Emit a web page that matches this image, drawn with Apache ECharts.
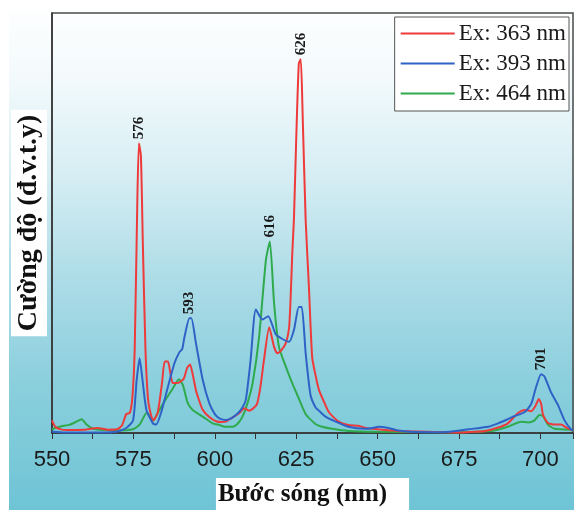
<!DOCTYPE html>
<html>
<head>
<meta charset="utf-8">
<script src="https://cdn.jsdelivr.net/npm/echarts@6/dist/echarts.min.js"></script>
<style>
  html, body { margin: 0; padding: 0; background: #fff; }
  #chart { width: 574px; height: 510px; }
</style>
</head>
<body>
<div id="chart"></div>
<script>
// Ex: 363 nm (red)
const redX = [550, 551, 553, 556, 560, 564, 567, 570, 571.5, 572.8, 573.9, 574.7, 575.4, 576.2, 576.7, 577.3, 577.9, 578.7, 579.5, 580.5,
  581.2, 582.5, 583.8, 584.6, 585.6, 586.4, 587.1, 589, 590.5, 591.5, 592.4, 593.2, 594.2, 595.3, 596.3, 598.3, 600.4, 602, 603.4, 605,
  607.5, 609, 610.5, 612, 613, 614, 615.1, 616.7, 618.2, 619.2, 620.5, 621.8, 622.8, 623.3, 623.8, 624.3, 625, 625.8, 626.4, 627,
  627.9, 628.9, 629.9, 631, 632, 633.5, 635, 638, 641, 644, 647, 650, 656, 660, 670, 675, 680, 683, 687, 690,
  693, 695.2, 697.2, 698.5, 699.5, 700.2, 700.8, 702.3, 704.3, 706.3, 708, 710]
const redY = [3, 1.5, 0.8, 0.7, 0.8, 1.2, 0.8, 0.9, 1.8, 4.5, 4.8, 8.6, 20, 55, 69, 66, 45, 20, 8, 4,
  3, 5, 12, 17, 17, 14, 11.9, 12, 13, 15.5, 16.3, 14, 10.2, 7.5, 5.5, 3.8, 2.8, 2.6, 2.7, 3.5,
  4.7, 5.9, 5.3, 6, 7, 11, 17.4, 25.2, 20.5, 19, 19.8, 21.4, 25, 32.5, 43, 51, 70, 88, 89, 75,
  50.7, 34.8, 18, 13.5, 10.2, 7.5, 5, 2.7, 1.9, 1.7, 1.1, 0.9, 0.5, 0.4, 0.2, 0.1, 0.3, 0.5, 1.3, 2.3,
  4.7, 5.5, 5.2, 6.5, 8.1, 7, 4.3, 2.4, 2, 2, 1.3, 0.6]

// Ex: 393 nm (blue)
const blueX = [550, 555, 560, 565, 569.8, 572.8, 574.9, 576, 576.9, 577.9, 579, 581, 582, 583.5, 585.6, 587.6, 589.1, 590, 590.7, 592.2,
  592.8, 594.2, 596.3, 598.3, 600, 601.4, 603.4, 605, 606.5, 608, 609.5, 611, 612.6, 614.6, 616.4, 618.7, 620.5, 622.8, 624.3, 625.8,
  626.7, 627.9, 629.4, 631, 632, 634, 636, 641, 646.2, 648.5, 650.3, 653.4, 656.4, 660, 670, 678, 684, 687, 690, 692,
  695.2, 697.2, 698.5, 700.2, 701.2, 703.3, 705.3, 707.4, 709.3, 710]
const blueY = [0.3, 0.1, 0.1, 0.1, 0.3, 1.2, 3, 12.6, 17.8, 11.9, 5.5, 2.3, 2, 4.8, 11, 16.6, 19.2, 20, 22.9, 27.3,
  27.3, 21.4, 12.6, 7.1, 4.5, 3.5, 3.1, 3.5, 4.3, 5.5, 7.9, 17.4, 29.4, 27, 27.8, 23.5, 22.5, 21.7, 24.5, 30,
  30, 19, 9, 6, 5.3, 3.9, 3.1, 1.5, 1, 1.2, 1.5, 1.2, 0.6, 0.3, 0.2, 0.9, 1.5, 2.3, 3.3, 4,
  5, 7, 10.5, 14, 13.5, 9.6, 6.8, 3, 0.9, 0.6]

// Ex: 464 nm (green)
const greenX = [550, 552.4, 555.5, 557.5, 559.1, 560.6, 562.6, 566, 569.8, 574.9, 576.9, 579.1, 581, 583, 585.1, 587.1, 589, 590.2, 591.7, 593.2,
  596.3, 599.3, 601.4, 603, 605.5, 607, 608.5, 610, 611.6, 613.6, 615.7, 616.9, 618.2, 619.7, 621.8, 623.8, 625.8, 627.9, 631, 633,
  636, 641, 650, 670, 685, 690, 694.1, 696.2, 698.2, 699.7, 700.8, 702.3, 704.3, 709.3, 710]
const greenY = [0.9, 1.5, 2, 2.7, 3.3, 2, 1, 0.7, 0.6, 0.9, 2, 4.8, 3, 5.5, 8.2, 10.6, 12.8, 11.4, 7.1, 5.5,
  3.9, 2.3, 1.9, 1.5, 1.5, 2.2, 3.9, 7, 11.8, 22.9, 41.2, 45.6, 30.9, 20.5, 15.8, 11.8, 8.2, 4.5, 2.1, 1.5,
  1, 0.5, 0.3, 0.2, 0.5, 1.5, 2.7, 2.5, 3, 4.3, 4, 2, 1, 0.8, 0.5]

const seriesNames = ['Ex: 363 nm', 'Ex: 393 nm', 'Ex: 464 nm']
const xTicks = [550, 575, 600, 625, 650, 675, 700]

// peak labels: series index, wavelength of the point, text
const peakSeries = [0, 1, 2, 0, 1]
const peakX = [576.7, 592.2, 616.9, 626.4, 700.2]
const peakText = ['576', '593', '616', '626', '701']

const chartInit = () => {
  const myEChart = echarts.init(document.getElementById('chart'))
  const allX = [redX, blueX, greenX]
  const allY = [redY, blueY, greenY]
  const colors = ['#ee3a3a', '#2f62c6', '#2faa4c']

  // 峰值标注
  const peaksOf = si => peakX
    .map((x, j) => ({ x, j }))
    .filter(p => peakSeries[p.j] === si)
    .map(p => ({ name: peakText[p.j], coord: [p.x, allY[si][allX[si].indexOf(p.x)]] }))

  const makeSeries = si => ({
    name: seriesNames[si],
    type: 'line',
    symbol: 'none',
    smooth: 0.2,
    lineStyle: { width: 2 },
    data: allX[si].map((x, i) => [x, allY[si][i]]),
    markPoint: {
      silent: true,
      symbol: 'circle',
      symbolSize: 0,
      data: peaksOf(si),
      label: {
        show: true,
        formatter: '{b}',
        position: 'top',
        distance: 4,
        rotate: 90,
        align: 'left',
        verticalAlign: 'middle',
        color: '#1a1a1a',
        fontFamily: 'Liberation Serif',
        fontWeight: 'bold',
        fontSize: 15
      }
    }
  })

  const option = {
    animation: false,
    backgroundColor: {
      type: 'linear', x: 0, y: 0, x2: 0, y2: 1,
      colorStops: [
        { offset: 0, color: '#ffffff' },
        { offset: 0.15, color: '#f3fafc' },
        { offset: 0.35, color: '#d5edf3' },
        { offset: 0.55, color: '#acdce7' },
        { offset: 0.75, color: '#8bcfdd' },
        { offset: 1, color: '#6ec4d5' }
      ]
    },
    graphic: [
      { type: 'rect', left: 0, top: 0, shape: { width: 9, height: 510 }, style: { fill: '#ffffff' }, z: -1 }
    ],
    color: colors,
    legend: {
      orient: 'vertical',
      right: 5,
      top: 17,
      data: seriesNames,
      icon: 'rect',
      backgroundColor: '#ffffff',
      borderColor: '#555',
      borderWidth: 1,
      borderRadius: 0,
      padding: [5, 3, 6, 6],
      itemWidth: 54,
      itemHeight: 2,
      itemGap: 7,
      textStyle: { fontFamily: 'Liberation Serif', fontSize: 23, color: '#1a1a1a', padding: [0, 0, 0, -1] }
    },
    grid: {
      left: 52,
      right: 1,
      top: 13,
      bottom: 77,
      outerBoundsMode: 'none',
      show: true,
      borderColor: '#4a4a4a',
      borderWidth: 1.5,
      backgroundColor: 'transparent'
    },
    xAxis: {
      type: 'value',
      min: 550,
      max: 710,
      interval: 25,
      name: 'Bước sóng (nm)',
      nameLocation: 'middle',
      nameGap: 45,
      nameTextStyle: {
        fontFamily: 'Liberation Serif',
        fontWeight: 'bold',
        fontSize: 25,
        color: '#111',
        backgroundColor: '#ffffff',
        padding: [4, 22, 4, 2]
      },
      axisLine: { lineStyle: { color: '#333', width: 1.5 } },
      axisTick: { show: true, inside: false, length: 6, lineStyle: { color: '#333' } },
      minorTick: { show: true, splitNumber: 2, length: 6, lineStyle: { color: '#333' } },
      splitLine: { show: false },
      axisLabel: {
        margin: 16,
        fontFamily: 'Liberation Sans',
        fontSize: 22,
        color: '#1a1a1a',
        formatter: v => xTicks.includes(v) ? String(v) : ''
      }
    },
    yAxis: {
      type: 'value',
      min: 0,
      max: 100,
      name: 'Cường độ (đ.v.t.y)',
      nameLocation: 'middle',
      nameGap: 5,
      nameTextStyle: {
        fontFamily: 'Liberation Serif',
        fontWeight: 'bold',
        fontSize: 28,
        color: '#111',
        backgroundColor: '#ffffff',
        padding: [4, 5, 4, 5]
      },
      axisLine: { show: true, lineStyle: { color: '#333', width: 1.5 } },
      axisTick: { show: false },
      axisLabel: { show: false },
      splitLine: { show: false }
    },
    series: [makeSeries(0), makeSeries(1), makeSeries(2)]
  }
  option.series[0].z = 3
  option.series[1].z = 4
  option.series[2].z = 2
  myEChart.setOption(option)
}

chartInit()
</script>
</body>
</html>
